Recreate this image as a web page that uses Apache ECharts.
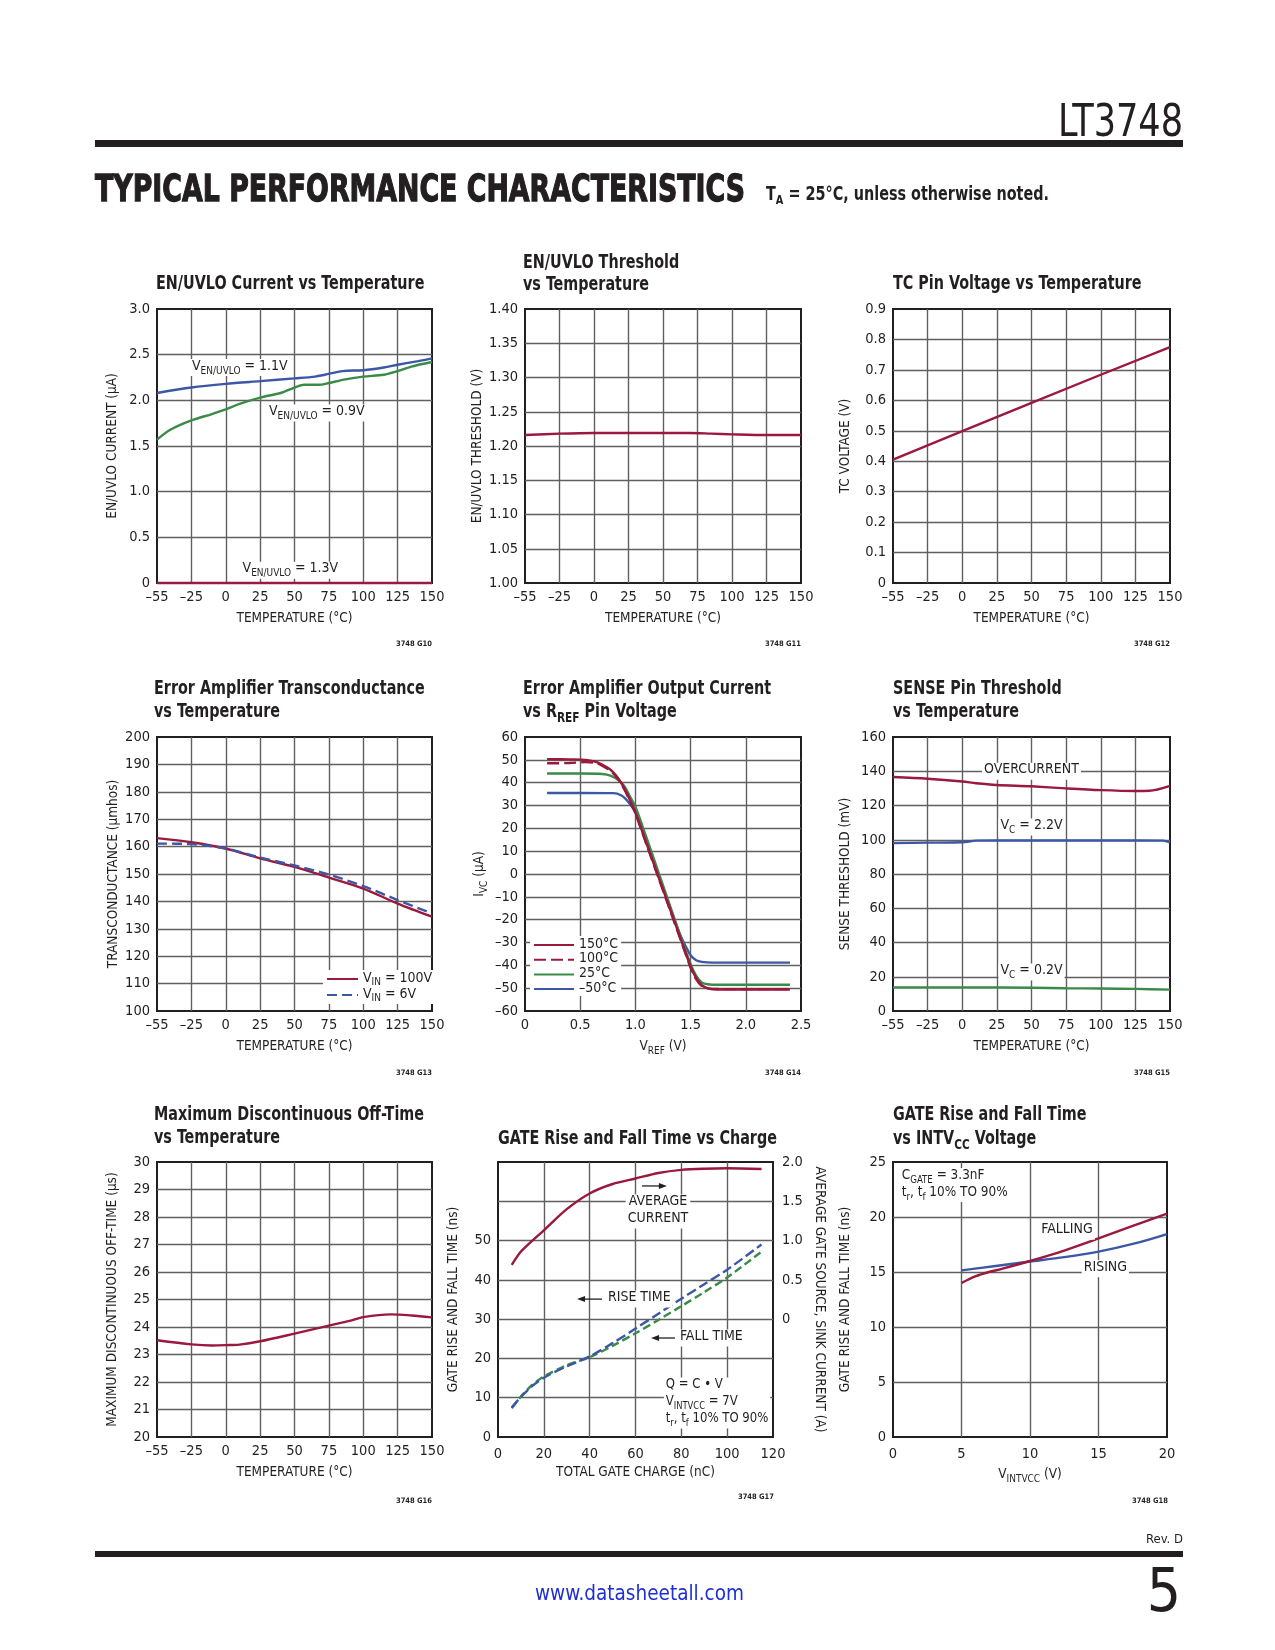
<!DOCTYPE html>
<html><head><meta charset="utf-8"><title>LT3748 Typical Performance Characteristics</title>
<script src="https://cdn.jsdelivr.net/npm/echarts@6.0.0/dist/echarts.min.js"></script>
<style>
html,body{margin:0;padding:0;background:#fff;}
#page{position:relative;width:1275px;height:1650px;overflow:hidden;background:#fff;font-family:'Liberation Sans Narrow','DejaVu Sans Condensed','Liberation Sans',sans-serif;color:#231f20;}
#chart{position:absolute;left:0;top:0;width:1275px;height:1650px;}
.abs{position:absolute;white-space:nowrap;line-height:1;}
.fit{transform-origin:0 50%;}
sub{font-size:0.68em;vertical-align:-0.3em;line-height:0;}
</style></head><body>
<div id="page">
<div id="chart"></div>
<div class="abs fit" data-w="125" style="left:1058px;top:99px;font-size:44px;">LT3748</div>
<div class="abs" style="left:95px;top:140px;width:1088px;height:7px;background:#231f20;"></div>
<div class="abs fit" data-w="650" style="left:95px;top:170px;font-family:'DejaVu Sans','Liberation Sans',sans-serif;font-weight:bold;font-size:37px;-webkit-text-stroke:1.3px #231f20;">TYPICAL PERFORMANCE CHARACTERISTICS</div>
<div class="abs fit" data-w="283" style="left:766px;top:184px;font-weight:bold;font-size:19px;">T<sub>A</sub> = 25°C, unless otherwise noted.</div>
<div class="abs" style="left:95px;top:1551px;width:1088px;height:6px;background:#231f20;"></div>
<div class="abs" style="right:92px;top:1532px;font-size:13px;">Rev. D</div>
<div class="abs fit" data-w="209" style="left:535px;top:1582px;font-size:22px;color:#1f2fd6;">www.datasheetall.com</div>
<div class="abs" style="right:94px;top:1560px;font-size:60px;">5</div>
</div>
<script>
// ---------------- DATA ----------------
// tick labels
const tempTicks   = ['\u201355','\u201325','0','25','50','75','100','125','150'];
const enCurTicks  = ['0','0.5','1.0','1.5','2.0','2.5','3.0'];
const thrTicks    = ['1.00','1.05','1.10','1.15','1.20','1.25','1.30','1.35','1.40'];
const tcTicks     = ['0','0.1','0.2','0.3','0.4','0.5','0.6','0.7','0.8','0.9'];
const gmTicks     = ['100','110','120','130','140','150','160','170','180','190','200'];
const vrefTicks   = ['0','0.5','1.0','1.5','2.0','2.5'];
const ivcTicks    = ['\u201360','\u201350','\u201340','\u201330','\u201320','\u201310','0','10','20','30','40','50','60'];
const senseTicks  = ['0','20','40','60','80','100','120','140','160'];
const offTicks    = ['20','21','22','23','24','25','26','27','28','29','30'];
const chargeTicks = ['0','20','40','60','80','100','120'];
const nsTicks     = ['0','10','20','30','40','50','',''];
const ampTicks    = ['','','','0','0.5','1.0','1.5','2.0'];
const intvTicks   = ['0','5','10','15','20'];
const gate2Ticks  = ['0','5','10','15','20','25'];

// Chart 1: EN/UVLO current (temperature axis position -50 = label -55)
const enT11 = [-50,-25,0,25,50,65,72,85,100,115,125,140,150];
const enI11 = [2.08,2.14,2.18,2.21,2.24,2.26,2.28,2.32,2.33,2.36,2.39,2.43,2.46];
const enT09 = [-50,-40,-25,-10,0,10,25,40,50,57,68,75,87,100,115,125,135,150];
const enI09 = [1.57,1.68,1.78,1.85,1.90,1.96,2.03,2.08,2.14,2.17,2.17,2.19,2.23,2.26,2.28,2.32,2.37,2.42];
const enT13 = [-50,0,50,100,150];
const enI13 = [0,0,0,0,0];
// Chart 2: EN/UVLO threshold
const thrT = [-50,-25,0,25,50,70,85,100,125,150];
const thrV = [1.216,1.218,1.219,1.219,1.219,1.219,1.218,1.217,1.216,1.216];
// Chart 3: TC pin voltage
const tcT = [-50,0,50,100,150];
const tcV = [0.405,0.499,0.592,0.684,0.775];
// Chart 4: transconductance
const gmT = [-50,-25,0,25,50,75,100,125,150];
const gm100 = [163.1,161.6,159.3,155.7,152.6,148.7,144.7,139.2,134.4];
const gm6   = [161.1,160.9,159.3,156.0,153.1,149.8,145.6,140.5,135.6];
// Chart 5: error amp output current vs VREF
const vr150 = [0.2,0.4,0.55,0.65,0.75,0.8,0.85,0.9,0.95,1.0,1.1,1.2,1.3,1.4,1.5,1.55,1.6,1.65,1.7,1.8,2.0,2.2,2.4];
const iv150 = [50.3,50.2,50,49,46.5,44.5,41.5,37.5,32.5,27,13.5,0,-13.5,-27,-40.5,-45.5,-48.7,-50,-50.5,-50.6,-50.6,-50.6,-50.6];
const vr100 = [0.2,0.4,0.55,0.65,0.75,0.8,0.85,0.9,0.95,1.0,1.1,1.2,1.3,1.4,1.5,1.55,1.6,1.65,1.7,1.8,2.0,2.2,2.4];
const iv100 = [48.5,48.6,49,48.5,46,44,41,37,32,26.5,13,-0.5,-14,-27.5,-41,-46,-49,-50,-50.3,-50.4,-50.4,-50.4,-50.4];
const vr25  = [0.2,0.5,0.7,0.78,0.85,0.9,0.95,1.0,1.1,1.2,1.3,1.4,1.5,1.55,1.6,1.65,1.7,1.8,2.0,2.2,2.4];
const iv25  = [44,44,43.8,43,41,38.5,34,29.5,16,2,-12,-26,-39.5,-44.5,-47.5,-48.3,-48.5,-48.5,-48.5,-48.5,-48.5];
const vrM50 = [0.2,0.5,0.8,0.87,0.92,0.96,1.0,1.1,1.2,1.3,1.4,1.47,1.5,1.55,1.6,1.7,1.8,2.0,2.2,2.4];
const ivM50 = [35.5,35.5,35.4,34.5,32.5,30,27,14,0.5,-13,-26,-33,-35.6,-37.8,-38.5,-38.8,-38.8,-38.8,-38.8,-38.8];
// Chart 6: SENSE threshold
const ocT = [-50,-25,0,10,25,50,75,100,125,135,150];
const ocV = [136.6,135.6,134,133,132,131.2,130,129,128.5,128.6,131.5];
const c22T = [-50,-25,0,10,25,50,75,100,125,145,150];
const c22V = [98,98.3,98.5,99.5,99.6,99.6,99.6,99.6,99.6,99.5,98.5];
const c02T = [-50,0,50,75,100,125,150];
const c02V = [13.7,13.7,13.6,13.3,13.1,12.9,12.5];
// Chart 7: max discontinuous off-time
const offT = [-50,-25,-10,0,10,25,50,75,90,100,120,135,150];
const offV = [23.52,23.37,23.33,23.34,23.36,23.48,23.76,24.05,24.22,24.36,24.46,24.42,24.35];
// Chart 8: gate rise/fall vs charge
const qC   = [6,10,15,20,30,40,50,60,70,80,90,100,115];
const avgI = [0.69,0.86,1.0,1.13,1.4,1.6,1.72,1.79,1.86,1.9,1.915,1.92,1.91];
const riseQ = [7.5,10.2,13,15.1,18,20.5,23.9,27.6,31.4,35.2,38.9,42.6,49];
const fallQ = [7.3,10.3,13.3,15.4,18.3,20.3,23.2,26.4,29.8,33.3,36.9,40.6,47.2];
// Chart 9: gate rise/fall vs INTVCC
const fallVx = [5,6,7,8,10,12.5,15,17.5,20];
const fallVy = [14,14.6,15,15.3,16,16.95,18.05,19.2,20.3];
const riseVx = [5,7.5,10,12.5,15,17.5,20];
const riseVy = [15.15,15.55,15.95,16.35,16.85,17.55,18.45];

// ---------------- STYLE ----------------
const FF = "'Liberation Sans Narrow','DejaVu Sans Condensed','Arial Narrow','Liberation Sans',sans-serif";
const INK = '#231f20', GRIDC = '#606060', RED = '#9a193d', BLUE = '#3b57a6', GREEN = '#3a8b47';
const RA = {n:{fontFamily:FF,fontSize:13.5,lineHeight:17,verticalAlign:'top',color:INK},
            s:{fontFamily:FF,fontSize:10,lineHeight:10,verticalAlign:'bottom',color:INK}};
const RL = {n:{fontFamily:FF,fontSize:14,lineHeight:16,verticalAlign:'top',color:INK},
            s:{fontFamily:FF,fontSize:10,lineHeight:10,verticalAlign:'bottom',color:INK}};
const RN = {n:{fontFamily:FF,fontSize:14,lineHeight:17,verticalAlign:'top',fill:INK},
            s:{fontFamily:FF,fontSize:10,lineHeight:10,verticalAlign:'bottom',fill:INK}};
const RT = {b:{fontFamily:FF,fontSize:19,fontWeight:'bold',lineHeight:23,verticalAlign:'top',fill:INK},
            bs:{fontFamily:FF,fontSize:14,fontWeight:'bold',lineHeight:14,verticalAlign:'bottom',fill:INK}};

const grids = [
  {left:157,top:309,width:275,height:274},
  {left:525,top:309,width:276,height:274},
  {left:893,top:309,width:277,height:274},
  {left:157,top:737,width:275,height:274},
  {left:525,top:737,width:276,height:274},
  {left:893,top:737,width:277,height:274},
  {left:157,top:1162,width:275,height:275},
  {left:498,top:1162,width:275,height:275},
  {left:893,top:1162,width:274,height:275}
].map(g => Object.assign({show:true,borderColor:INK,borderWidth:2,backgroundColor:'rgba(0,0,0,0)'}, g));

const fmt = (ticks, min, step) => v => { const t = ticks[Math.round((v - min) / step)]; return t === undefined ? '' : t; };
const nm = s => '{n|' + s + '}';
const LBL = 14.5;

function axis(gi, min, max, step, ticks, name, nameGap, extra) {
  return Object.assign({
    type:'value', gridIndex:gi, min, max, interval:step,
    axisLine:{show:false}, axisTick:{show:false},
    splitLine:{show:true, showMinLine:false, showMaxLine:false, lineStyle:{color:GRIDC, width:1.4}},
    axisLabel:{color:INK, fontFamily:FF, fontSize:LBL, margin:7, formatter:fmt(ticks, min, step)},
    name, nameLocation:'middle', nameGap,
    nameTextStyle:{color:INK, fontFamily:FF, fontSize:13.5, rich:RA}
  }, extra || {});
}
const TEMPX = gi => axis(gi, -50, 150, 25, tempTicks, nm('TEMPERATURE (°C)'), 28);

const xAxes = [
  TEMPX(0), TEMPX(1), TEMPX(2), TEMPX(3),
  axis(4, 0, 2.5, 0.5, vrefTicks, '{n|V}{s|REF}{n| (V)}', 28),
  TEMPX(5), TEMPX(6),
  axis(7, 0, 120, 20, chargeTicks, nm('TOTAL GATE CHARGE (nC)'), 28, {axisLabel:{color:INK,fontFamily:FF,fontSize:LBL,margin:10,formatter:fmt(chargeTicks,0,20)}}),
  axis(8, 0, 20, 5, intvTicks, '{n|V}{s|INTVCC}{n| (V)}', 30, {axisLabel:{color:INK,fontFamily:FF,fontSize:LBL,margin:10,formatter:fmt(intvTicks,0,5)}})
];
const yAxes = [
  axis(0, 0, 3, 0.5, enCurTicks, nm('EN/UVLO CURRENT (µA)'), 35),
  axis(1, 1.0, 1.4, 0.05, thrTicks, nm('EN/UVLO THRESHOLD (V)'), 38),
  axis(2, 0, 0.9, 0.1, tcTicks, nm('TC VOLTAGE (V)'), 38),
  axis(3, 100, 200, 10, gmTicks, nm('TRANSCONDUCTANCE (µmhos)'), 34),
  axis(4, -60, 60, 10, ivcTicks, '{n|I}{s|VC}{n| (µA)}', 36),
  axis(5, 0, 160, 20, senseTicks, nm('SENSE THRESHOLD (mV)'), 38),
  axis(6, 20, 30, 1, offTicks, nm('MAXIMUM DISCONTINUOUS OFF-TIME (µs)'), 35),
  axis(7, 0, 70, 10, nsTicks, nm('GATE RISE AND FALL TIME (ns)'), 35),
  axis(8, 0, 25, 5, gate2Ticks, nm('GATE RISE AND FALL TIME (ns)'), 38),
  axis(7, -1.5, 2.0, 0.5, ampTicks, nm('AVERAGE GATE SOURCE, SINK CURRENT (A)'), 36,
       {position:'right', splitLine:{show:false}, nameRotate:-90,
        axisLabel:{color:INK,fontFamily:FF,fontSize:LBL,margin:9,formatter:fmt(ampTicks,-1.5,0.5)}})
];

function line(xi, yi, xs, ys, color, dash, name, extra) {
  return Object.assign({type:'line', name, xAxisIndex:xi, yAxisIndex:yi,
    data: xs.map((x, i) => [x, ys[i]]), symbol:'none', smooth:0.3, silent:true, z:3,
    lineStyle:{color, width:2.4, type:dash || 'solid'}, itemStyle:{color}}, extra || {});
}
const series = [
  line(0,0,enT11,enI11,BLUE,null,'en11'),
  line(0,0,enT09,enI09,GREEN,null,'en09'),
  line(0,0,enT13,enI13,RED,null,'en13',{clip:false, smooth:false}),
  line(1,1,thrT,thrV,RED,null,'thr'),
  line(2,2,tcT,tcV,RED,null,'tc',{smooth:false}),
  line(3,3,gmT,gm100,RED,null,'VIN = 100V'),
  line(3,3,gmT,gm6,BLUE,[10,5],'VIN = 6V'),
  line(4,4,vrM50,ivM50,BLUE,null,'\u201350°C'),
  line(4,4,vr25,iv25,GREEN,null,'25°C'),
  line(4,4,vr100,iv100,RED,[12,5],'100°C'),
  line(4,4,vr150,iv150,RED,null,'150°C'),
  line(5,5,ocT,ocV,RED,null,'oc'),
  line(5,5,c22T,c22V,BLUE,null,'vc22'),
  line(5,5,c02T,c02V,GREEN,null,'vc02'),
  line(6,6,offT,offV,RED,null,'off'),
  line(7,9,qC,avgI,RED,null,'avg'),
  line(7,7,qC,fallQ,GREEN,[8,4],'fallq'),
  line(7,7,qC,riseQ,BLUE,[10,4],'riseq'),
  line(8,8,riseVx,riseVy,BLUE,null,'risev'),
  line(8,8,fallVx,fallVy,RED,null,'fallv')
];

const legendBase = {orient:'vertical', backgroundColor:'#fff', selectedMode:false, itemHeight:14,
  itemStyle:{opacity:0},
  textStyle:{color:INK, fontFamily:FF, fontSize:14, rich:RL}};
const legends = [
  Object.assign({}, legendBase, {data:['VIN = 100V','VIN = 6V'], left:323, top:970, itemWidth:31, itemGap:0, padding:[1,3,1,3],
    formatter: n => '{n|V}{s|IN}{n|' + n.slice(3) + '}'}),
  Object.assign({}, legendBase, {data:['150°C','100°C','25°C','\u201350°C'], left:530, top:936, itemWidth:40, itemGap:0.7, padding:[1,3,1,3],
    formatter: n => '{n|' + n + '}'})
];

const chart = echarts.init(document.getElementById('chart'), null, {renderer:'canvas', width:1275, height:1650});
chart.setOption({animation:false, textStyle:{fontFamily:FF}, grid:grids, xAxis:xAxes, yAxis:yAxes, series, legend:legends});

// ---------------- TEXT (titles, notes, arrows) ----------------
const titles = [
  [156,286,'{b|EN/UVLO Current vs Temperature}'],
  [523,265,'{b|EN/UVLO Threshold}'],[523,287,'{b|vs Temperature}'],
  [893,286,'{b|TC Pin Voltage vs Temperature}'],
  [154,691,'{b|Error Amplifier Transconductance}'],[154,714,'{b|vs Temperature}'],
  [523,691,'{b|Error Amplifier Output Current}'],[523,714,'{b|vs R}{bs|REF}{b| Pin Voltage}'],
  [893,691,'{b|SENSE Pin Threshold}'],[893,714,'{b|vs Temperature}'],
  [154,1117,'{b|Maximum Discontinuous Off-Time}'],[154,1140,'{b|vs Temperature}'],
  [498,1141,'{b|GATE Rise and Fall Time vs Charge}'],
  [893,1117,'{b|GATE Rise and Fall Time}'],[893,1141,'{b|vs INTV}{bs|CC}{b| Voltage}']
];
const figIds = [[432,644,'3748 G10'],[801,644,'3748 G11'],[1170,644,'3748 G12'],
  [432,1073,'3748 G13'],[801,1073,'3748 G14'],[1170,1073,'3748 G15'],
  [432,1501,'3748 G16'],[774,1497,'3748 G17'],[1168,1501,'3748 G18']];

// [xAxis, yAxis, x, y, text, align, scaleX]
const notes = [
  [0,0,-26,2.36,'{n|V}{s|EN/UVLO}{n| = 1.1V}','left',1],
  [0,0,30,1.86,'{n|V}{s|EN/UVLO}{n| = 0.9V}','left',1],
  [0,0,47,0.14,'{n|V}{s|EN/UVLO}{n| = 1.3V}','center',1],
  [5,5,50,140,'{n|OVERCURRENT}','center',1],
  [5,5,50,107.5,'{n|V}{s|C}{n| = 2.2V}','center',1],
  [5,5,50,22.8,'{n|V}{s|C}{n| = 0.2V}','center',1],
  [7,7,69.8,57.4,'{n|AVERAGE}\n{n|CURRENT}','center',1],
  [7,7,47.1,35.1,'{n|RISE TIME}','left',1],
  [7,7,78.5,25.2,'{n|FALL TIME}','left',1],
  [7,7,72.4,8.65,'{n|Q = C • V}\n{n|V}{s|INTVCC}{n| = 7V}\n{n|t}{s|r}{n|, t}{s|f}{n| 10% TO 90%}','left',0.93],
  [8,8,0.5,22.9,'{n|C}{s|GATE}{n| = 3.3nF}\n{n|t}{s|r}{n|, t}{s|f}{n| 10% TO 90%}','left',0.96],
  [8,8,12.7,18.7,'{n|FALLING}','center',1],
  [8,8,15.5,15.3,'{n|RISING}','center',1]
];
const arrows = [ // [xAxis, yAxis, fromX, toX (tip), y]
  [7,7,62.8,73.7,63.9],
  [7,7,45.4,34.5,35.1],
  [7,7,77.2,66.8,25.2]
];

const graphic = [];
titles.forEach(([x,y,t]) => graphic.push({type:'text', x, y, scaleX:0.84, silent:true, z:20,
  style:{text:t, rich:RT, fill:INK, align:'left', verticalAlign:'middle'}}));
figIds.forEach(([x,y,t]) => graphic.push({type:'text', x, y, silent:true, z:20,
  style:{text:t, fill:INK, font:'bold 7.5px ' + FF, align:'right', verticalAlign:'middle'}}));
notes.forEach(([xi,yi,x,y,t,al,sx]) => {
  const p = chart.convertToPixel({xAxisIndex:xi, yAxisIndex:yi}, [x, y]);
  graphic.push({type:'text', x:p[0], y:p[1], scaleX:sx, silent:true, z:20,
    style:{text:t, rich:RN, fill:INK, align:al, verticalAlign:'middle', backgroundColor:'#fff', padding:[0,2,0,2]}});
});
arrows.forEach(([xi,yi,x0,x1,y]) => {
  const a = chart.convertToPixel({xAxisIndex:xi, yAxisIndex:yi}, [x0, y]);
  const b = chart.convertToPixel({xAxisIndex:xi, yAxisIndex:yi}, [x1, y]);
  const d = b[0] > a[0] ? 1 : -1;
  graphic.push({type:'line', silent:true, z:20, shape:{x1:a[0], y1:a[1], x2:b[0] - d*6, y2:b[1]}, style:{stroke:INK, lineWidth:1.3}});
  graphic.push({type:'polygon', silent:true, z:20, shape:{points:[[b[0],b[1]],[b[0]-d*8,b[1]-3],[b[0]-d*8,b[1]+3]]}, style:{fill:INK}});
});
chart.setOption({graphic});

document.querySelectorAll('.fit').forEach(el => {
  const w = el.getBoundingClientRect().width;
  el.style.transform = 'scaleX(' + (+el.dataset.w / w) + ')';
});
</script>
</body></html>
